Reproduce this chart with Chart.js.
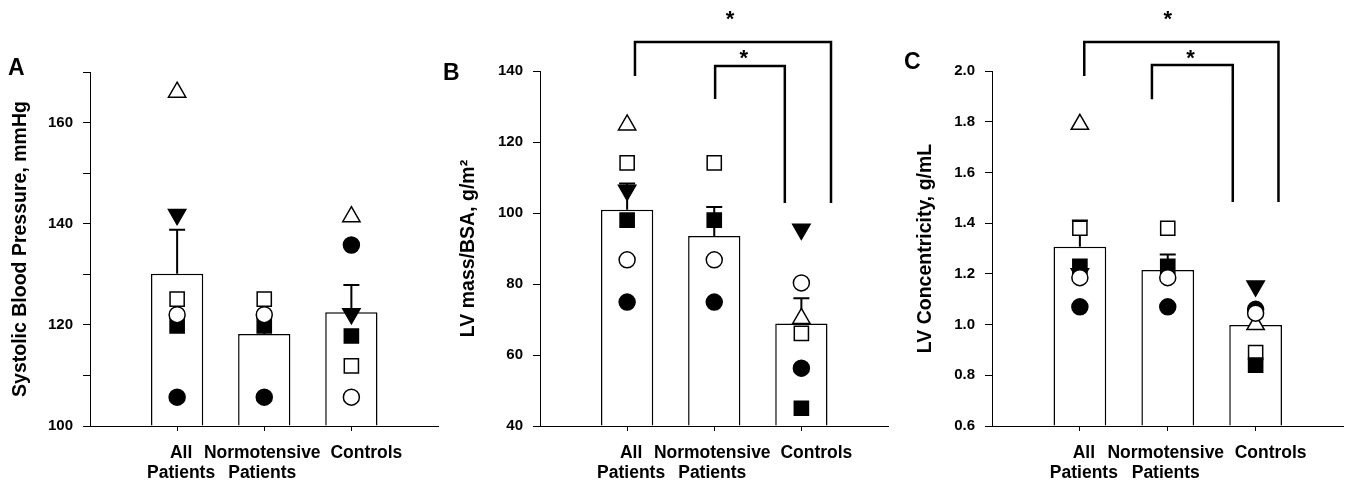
<!DOCTYPE html>
<html>
<head>
<meta charset="utf-8">
<title>LV and blood pressure panels</title>
<script src="https://cdn.jsdelivr.net/npm/chart.js@4.4.1/dist/chart.umd.min.js"></script>
<style>
    body { margin: 0; background: #fff; }
    #wrap { position: relative; width: 1355px; height: 491px; overflow: hidden; }
    #wrap canvas { position: absolute; top: 0; }
    .letter { position: absolute; font: bold 23px "Liberation Sans", Arial, sans-serif; line-height: 23px; color: #000; }
</style>
</head>
<body>
<div id="wrap">
    <canvas id="chartA" width="450" height="491" style="left:0px"></canvas>
    <canvas id="chartB" width="450" height="491" style="left:450px"></canvas>
    <canvas id="chartC" width="455" height="491" style="left:900px"></canvas>
    <div class="letter" style="left:8px;top:56px">A</div>
    <div class="letter" style="left:443px;top:61px">B</div>
    <div class="letter" style="left:904px;top:50px">C</div>
</div>
<script>
"use strict";

var categories = ["All Patients", "Normotensive Patients", "Controls"];

// A - systolic blood pressure, mmHg (one value per group, null = no subject)
var sbpMean = [130.1, 118.2, 122.5];
var sbpSemTop = [138.8, 122.4, 127.9];
var sbpOpenTriangle = [166.0, null, 141.4];
var sbpDownTriangle = [141.8, null, 122.2];
var sbpOpenSquare = [125.1, 125.1, 111.9];
var sbpFilledSquare = [119.8, 119.8, 117.8];
var sbpFilledCircle = [105.7, 105.7, 135.8];
var sbpOpenCircle = [122.0, 122.0, 105.7];

// B - LV mass / BSA, g/m2
var lvmMean = [100.9, 93.5, 68.9];
var lvmSemTop = [108.3, 101.7, 76.0];
var lvmOpenTriangle = [124.8, null, 70.3];
var lvmDownTriangle = [106.4, null, 95.4];
var lvmOpenSquare = [114.1, 114.1, 66.1];
var lvmFilledSquare = [98.0, 98.0, 45.0];
var lvmFilledCircle = [74.9, 74.9, 56.3];
var lvmOpenCircle = [86.8, 86.8, 80.3];
// brackets: from, to, top, left end, right end, star x, star y
var lvmBrackets = [
    [1.09, 3.34, 148.2, 138.6, 102.8, 2.18, 155.5],
    [2.01, 2.81, 141.4, 132.1, 102.8, 2.34, 144.5]
];

// C - LV concentricity, g/mL
var concMean = [1.307, 1.215, 0.998];
var concSemTop = [1.41, 1.276, 1.045];
var concOpenTriangle = [1.79, null, 1.0];
var concDownTriangle = [1.20, null, 1.152];
var concOpenSquare = [1.38, 1.38, 0.89];
var concFilledSquare = [1.23, 1.23, 0.84];
var concFilledCircle = [1.07, 1.07, 1.06];
var concOpenCircle = [1.185, 1.185, 1.045];
var concBrackets = [
    [1.05, 3.26, 2.114, 1.98, 1.483, 2.0, 2.217],
    [1.82, 2.74, 2.024, 1.889, 1.483, 2.26, 2.063]
];

Chart.defaults.font.family = '"Liberation Sans", Arial, sans-serif';
Chart.defaults.color = "#000";

// small horizontal nudges of the group labels, as in the original figure
var LABEL_SHIFT = [4, -2, 15];

function toPoints(values) {
    var pts = [];
    values.forEach(function (v, i) {
        if (v !== null) pts.push({ x: i + 1, y: v });
    });
    return pts;
}

function markerSet(values, style, rotation, fill, radius, order) {
    return {
        type: "scatter",
        data: toPoints(values),
        pointStyle: style,
        rotation: rotation,
        pointRadius: radius,
        pointHoverRadius: radius,
        pointBackgroundColor: fill,
        pointBorderColor: "#000",
        pointBorderWidth: 1.5,
        clip: false,
        order: order
    };
}

function makePanel(id, p) {
    var semPlugin = {
        id: "sem_" + id,
        afterDatasetDraw: function (chart, args) {
            if (args.index !== 0) return;
            var ctx = chart.ctx, xs = chart.scales.x, ys = chart.scales.y;
            ctx.save();
            ctx.strokeStyle = "#000";
            ctx.lineWidth = 2;
            p.mean.forEach(function (m, i) {
                var px = xs.getPixelForValue(i + 1);
                var y0 = ys.getPixelForValue(m);
                var y1 = ys.getPixelForValue(p.semTop[i]);
                ctx.beginPath();
                ctx.moveTo(px, y0);
                ctx.lineTo(px, y1);
                ctx.moveTo(px - 8, y1);
                ctx.lineTo(px + 8, y1);
                ctx.stroke();
            });
            ctx.restore();
        }
    };

    var labelPlugin = {
        id: "labels_" + id,
        afterDraw: function (chart) {
            var ctx = chart.ctx, xs = chart.scales.x;
            ctx.save();
            ctx.fillStyle = "#000";
            ctx.font = 'bold 17.5px "Liberation Sans", Arial, sans-serif';
            ctx.textAlign = "center";
            ctx.textBaseline = "alphabetic";
            categories.forEach(function (c, i) {
                var px = xs.getPixelForValue(i + 1) + LABEL_SHIFT[i];
                c.split(" ").forEach(function (line, k) {
                    ctx.fillText(line, px, xs.top + 32 + k * 20);
                });
            });
            ctx.restore();
        }
    };

    var bracketPlugin = {
        id: "brackets_" + id,
        afterDraw: function (chart) {
            if (!p.brackets) return;
            var ctx = chart.ctx, xs = chart.scales.x, ys = chart.scales.y;
            ctx.save();
            ctx.strokeStyle = "#000";
            ctx.lineWidth = 2.5;
            ctx.fillStyle = "#000";
            ctx.font = 'bold 22px "Liberation Sans", Arial, sans-serif';
            ctx.textAlign = "center";
            ctx.textBaseline = "middle";
            p.brackets.forEach(function (b) {
                var x0 = xs.getPixelForValue(b[0]), x1 = xs.getPixelForValue(b[1]);
                ctx.beginPath();
                ctx.moveTo(x0, ys.getPixelForValue(b[3]));
                ctx.lineTo(x0, ys.getPixelForValue(b[2]));
                ctx.lineTo(x1, ys.getPixelForValue(b[2]));
                ctx.lineTo(x1, ys.getPixelForValue(b[4]));
                ctx.stroke();
                ctx.fillText("*", xs.getPixelForValue(b[5]), ys.getPixelForValue(b[6]) + 4);
            });
            ctx.restore();
        }
    };

    return new Chart(document.getElementById(id), {
        type: "bar",
        data: {
            datasets: [
                {
                    type: "bar",
                    data: toPoints(p.mean),
                    backgroundColor: "#fff",
                    borderColor: "#000",
                    borderWidth: 1.5,
                    base: p.yMin,
                    barPercentage: 0.6,
                    categoryPercentage: 1,
                    order: 10
                },
                markerSet(p.openTriangle, "triangle", 0, "#fff", 10, 6),
                markerSet(p.downTriangle, "triangle", 180, "#000", 10, 5),
                markerSet(p.openSquare, "rect", 0, "#fff", 10, 4),
                markerSet(p.filledSquare, "rect", 0, "#000", 10, 3),
                markerSet(p.filledCircle, "circle", 0, "#000", 8, 2),
                markerSet(p.openCircle, "circle", 0, "#fff", 8, 1)
            ]
        },
        options: {
            responsive: false,
            animation: false,
            devicePixelRatio: 1,
            layout: { padding: { top: p.padTop, right: p.padRight, left: 0, bottom: 0 } },
            plugins: { legend: { display: false }, tooltip: { enabled: false } },
            scales: {
                x: {
                    type: "linear",
                    min: 0,
                    max: categories.length + 1,
                    offset: false,
                    afterBuildTicks: function (s) {
                        s.ticks = categories.map(function (c, i) { return { value: i + 1 }; });
                    },
                    afterFit: function (s) { s.height = 65; },
                    border: { color: "#000", width: 1 },
                    grid: { display: true, drawOnChartArea: false, drawTicks: true, tickLength: 5, color: "#000", offset: false },
                    ticks: { display: false }
                },
                y: {
                    type: "linear",
                    min: p.yMin,
                    max: p.yMax,
                    afterFit: function (s) { s.width = p.axisWidth; },
                    border: { color: "#000", width: 1 },
                    grid: { display: true, drawOnChartArea: false, drawTicks: true, tickLength: 7, color: "#000" },
                    ticks: {
                        stepSize: p.step,
                        padding: 10,
                        color: "#000",
                        font: { size: 15, weight: "bold" },
                        callback: p.tickLabel
                    },
                    title: {
                        display: true,
                        text: p.yTitle,
                        color: "#000",
                        font: { size: 19.5, weight: "bold" },
                        padding: { top: p.titlePad, bottom: 0 }
                    }
                }
            }
        },
        plugins: [semPlugin, labelPlugin, bracketPlugin]
    });
}

makePanel("chartA", {
    mean: sbpMean, semTop: sbpSemTop,
    openTriangle: sbpOpenTriangle, downTriangle: sbpDownTriangle,
    openSquare: sbpOpenSquare, filledSquare: sbpFilledSquare,
    filledCircle: sbpFilledCircle, openCircle: sbpOpenCircle,
    brackets: null,
    yMin: 100, yMax: 170, step: 10,
    tickLabel: function (v) { return v % 20 === 0 ? v : ""; },
    yTitle: "Systolic Blood Pressure, mmHg",
    axisWidth: 90, padTop: 72, padRight: 5, titlePad: 9
});

makePanel("chartB", {
    mean: lvmMean, semTop: lvmSemTop,
    openTriangle: lvmOpenTriangle, downTriangle: lvmDownTriangle,
    openSquare: lvmOpenSquare, filledSquare: lvmFilledSquare,
    filledCircle: lvmFilledCircle, openCircle: lvmOpenCircle,
    brackets: lvmBrackets,
    yMin: 40, yMax: 140, step: 20,
    tickLabel: function (v) { return v; },
    yTitle: "LV mass/BSA, g/m\u00B2",
    axisWidth: 90, padTop: 71, padRight: 6, titlePad: 7
});

makePanel("chartC", {
    mean: concMean, semTop: concSemTop,
    openTriangle: concOpenTriangle, downTriangle: concDownTriangle,
    openSquare: concOpenSquare, filledSquare: concFilledSquare,
    filledCircle: concFilledCircle, openCircle: concOpenCircle,
    brackets: concBrackets,
    yMin: 0.6, yMax: 2.0, step: 0.2,
    tickLabel: function (v) { return Number(v).toFixed(1); },
    yTitle: "LV Concentricity, g/mL",
    axisWidth: 92, padTop: 71, padRight: 9, titlePad: 14
});
</script>
</body>
</html>
